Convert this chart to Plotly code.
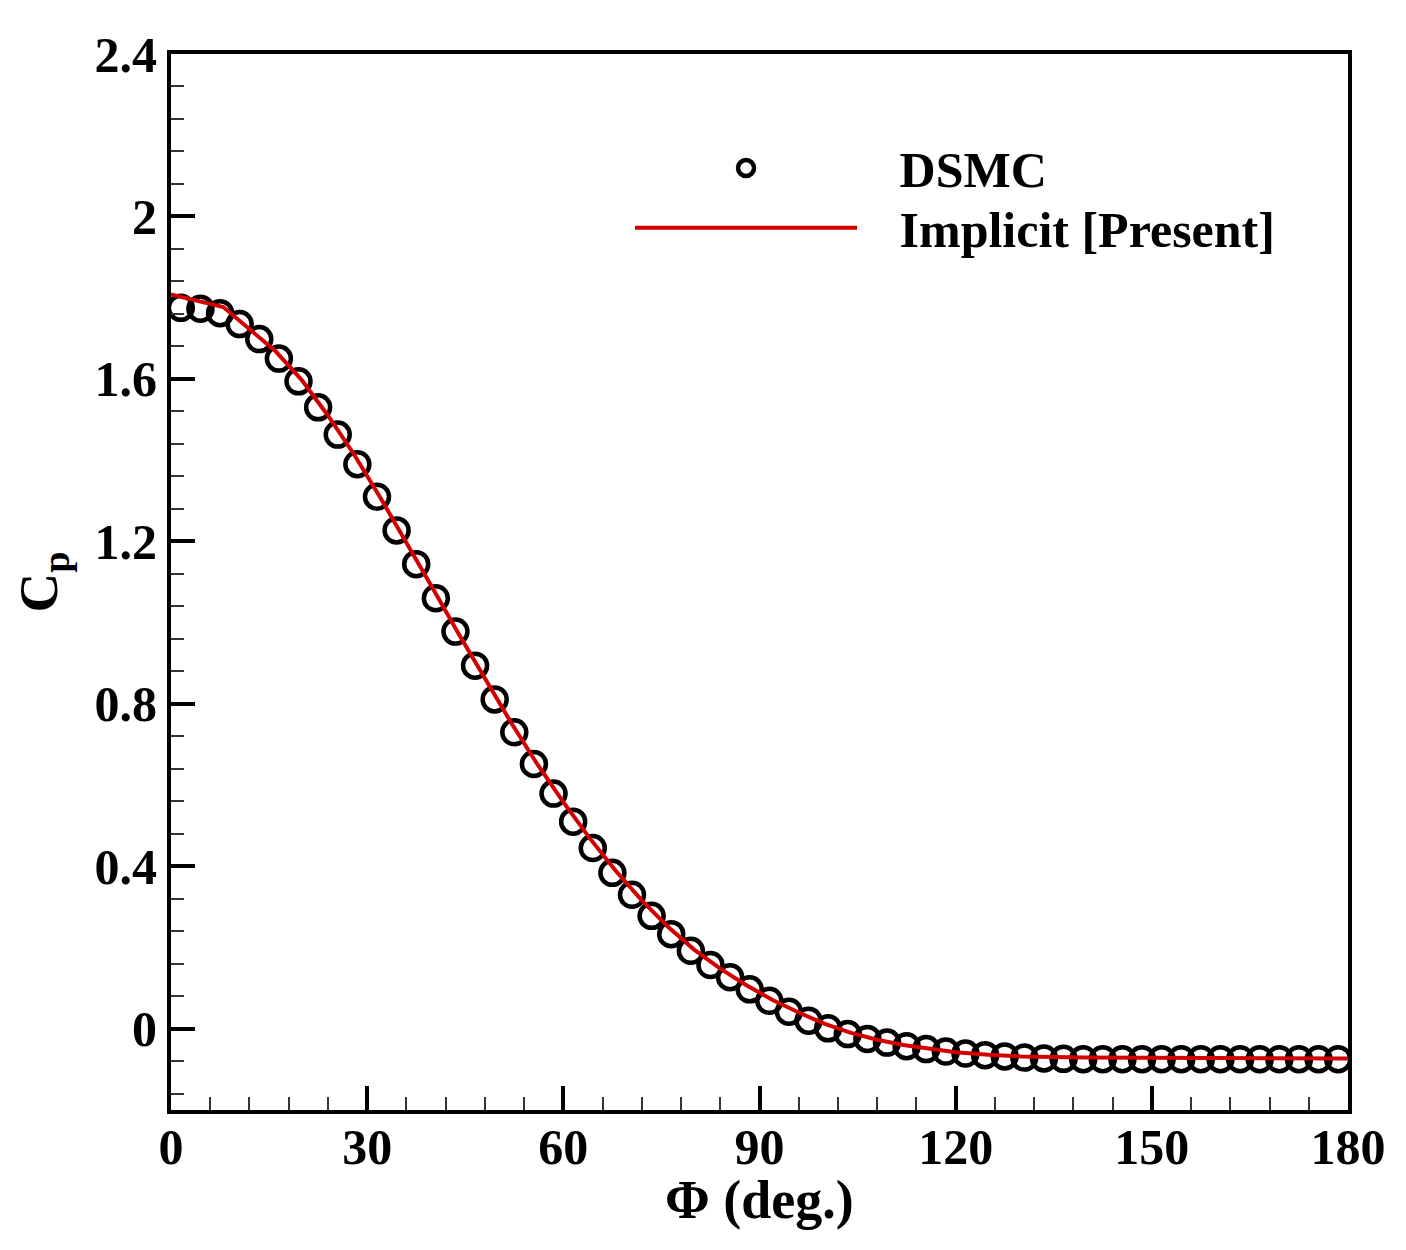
import plotly.graph_objects as go

# DSMC samples (every 3 deg, cell centres)
phi_dsmc = [1.5, 4.5, 7.5, 10.5, 13.5, 16.5, 19.5, 22.5, 25.5, 28.5,
            31.5, 34.5, 37.5, 40.5, 43.5, 46.5, 49.5, 52.5, 55.5, 58.5,
            61.5, 64.5, 67.5, 70.5, 73.5, 76.5, 79.5, 82.5, 85.5, 88.5,
            91.5, 94.5, 97.5, 100.5, 103.5, 106.5, 109.5, 112.5, 115.5, 118.5,
            121.5, 124.5, 127.5, 130.5, 133.5, 136.5, 139.5, 142.5, 145.5, 148.5,
            151.5, 154.5, 157.5, 160.5, 163.5, 166.5, 169.5, 172.5, 175.5, 178.5]
cp_dsmc = [1.775, 1.773, 1.762, 1.735, 1.698, 1.650, 1.594, 1.530, 1.463, 1.390,
           1.310, 1.227, 1.144, 1.060, 0.978, 0.894, 0.811, 0.730, 0.652, 0.579,
           0.510, 0.445, 0.384, 0.330, 0.278, 0.233, 0.192, 0.157, 0.127, 0.097,
           0.069, 0.042, 0.020, 0.001, -0.013, -0.025, -0.034, -0.043, -0.050, -0.056,
           -0.061, -0.065, -0.068, -0.071, -0.073, -0.074, -0.075, -0.075, -0.075, -0.075,
           -0.075, -0.075, -0.075, -0.075, -0.075, -0.075, -0.075, -0.075, -0.075, -0.075]

# implicit solver (present)
phi_impl = [0, 8, 16, 20, 24, 28, 32, 36, 40, 44, 48, 52, 56, 60, 64, 68, 72,
            76, 80, 84, 88, 92, 96, 100, 104, 108, 112, 116, 120, 125, 130,
            140, 150, 160, 170, 180]
cp_impl = [1.808, 1.777, 1.668, 1.597, 1.510, 1.414, 1.308, 1.198, 1.085, 0.972,
           0.861, 0.754, 0.652, 0.558, 0.470, 0.389, 0.316, 0.251, 0.195, 0.148,
           0.107, 0.071, 0.040, 0.012, -0.010, -0.027, -0.040, -0.050, -0.058, -0.064,
           -0.068, -0.071, -0.072, -0.073, -0.073, -0.073]

font_fam = "Liberation Serif"
gap = '\u00a0' * 3  # push legend text away from the symbols

fig = go.Figure()
fig.add_trace(go.Scatter(x=phi_dsmc, y=cp_dsmc, mode='markers', name='<b>' + gap + 'DSMC</b>',
                         marker=dict(symbol='circle-open', size=24, color='black',
                                     line=dict(width=4.5, color='black')),
                         legend='legend'))
fig.add_trace(go.Scatter(x=phi_impl, y=cp_impl, mode='lines',
                         name='<b>' + gap + 'Implicit [Present]</b>',
                         line=dict(color='#d40000', width=4),
                         legend='legend2'))

axis_common = dict(showline=True, linecolor='black', linewidth=4, mirror=True,
                   ticks='inside', ticklen=24, tickwidth=4, tickcolor='black',
                   showgrid=False, zeroline=False, automargin=False,
                   tickfont=dict(family=font_fam, size=50, color='black'))

fig.update_xaxes(range=[0, 180], dtick=30, tick0=0, ticklabelstandoff=-10,
                 minor=dict(dtick=6, ticks='inside', ticklen=13, tickwidth=1.5,
                            tickcolor='#333', showgrid=False),
                 tickprefix='<b>', ticksuffix='</b>', **axis_common)
fig.update_yaxes(range=[-0.2, 2.4], dtick=0.4, tick0=0,
                 minor=dict(dtick=0.08, tick0=0, ticks='inside', ticklen=13, tickwidth=1.5,
                            tickcolor='#333', showgrid=False),
                 title=dict(text='<b>C<sub>p</sub></b>', standoff=46,
                            font=dict(family=font_fam, size=55, color='black')),
                 tickprefix='<b>', ticksuffix='</b>', **axis_common)

# x-axis title as annotation so it can sit a bit closer to the tick labels
fig.add_annotation(text='<b>Φ (deg.)</b>', x=0.5, y=0, xref='paper', yref='paper',
                   xanchor='center', yanchor='middle', yshift=-90, showarrow=False,
                   font=dict(family=font_fam, size=54, color='black'))

leg_style = dict(xanchor='left', yanchor='top', bgcolor='rgba(0,0,0,0)', borderwidth=0,
                 itemwidth=222, font=dict(family=font_fam, size=50, color='black'))

fig.update_layout(
    width=1406, height=1250,
    margin=dict(l=163, r=66, t=46, b=148),
    plot_bgcolor='white', paper_bgcolor='white',
    showlegend=True,
    legend=dict(x=0.390, y=0.929, **leg_style),
    legend2=dict(x=0.390, y=0.8724, **leg_style),
)

fig.write_html("out.html")
